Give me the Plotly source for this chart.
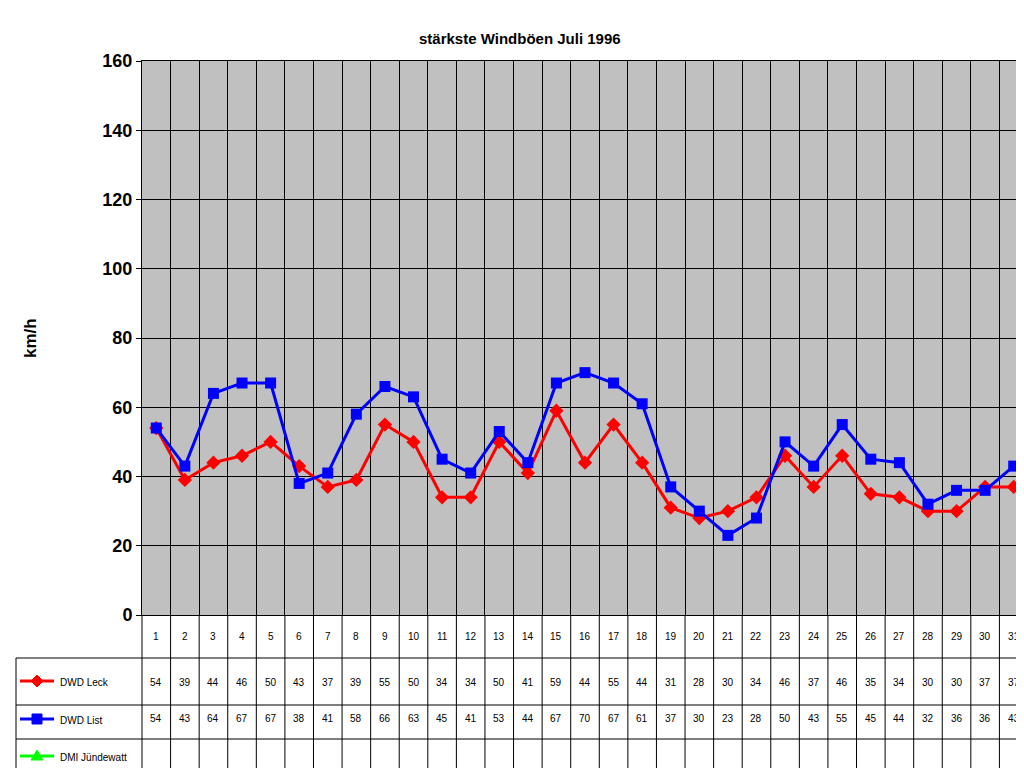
import plotly.graph_objects as go

days = list(range(1, 32))
leck = [54, 39, 44, 46, 50, 43, 37, 39, 55, 50, 34, 34, 50, 41, 59, 44, 55, 44, 31, 28, 30, 34, 46, 37, 46, 35, 34, 30, 30, 37, 37]
liste = [54, 43, 64, 67, 67, 38, 41, 58, 66, 63, 45, 41, 53, 44, 67, 70, 67, 61, 37, 30, 23, 28, 50, 43, 55, 45, 44, 32, 36, 36, 43]
series = [("DWD Leck", leck, "red", "diamond"), ("DWD List", liste, "blue", "square"),
          ("DMI Jündewatt", None, "#00ff00", "triangle-up")]

W, H = 1024, 768
x0, x1, y0, y1 = 134, 1020, 53, 607
F = "Arial, Liberation Sans"

def px(x):
    return (x - x0) / (x1 - x0)

def py(y):
    return (y1 - y) / (y1 - y0)

fig = go.Figure()
for name, vals, col, sym in series[:2]:
    fig.add_trace(go.Scatter(x=days, y=vals, mode="lines+markers", name=name,
                             line=dict(color=col, width=3),
                             marker=dict(symbol=sym, size=11, color=col)))

cw = (x1 - x0) / 31
rows = [607, 650, 697, 731, 763]
shapes = []
def line(xa, ya, xb, yb, col="black", w=1):
    shapes.append(dict(type="line", xref="paper", yref="paper", x0=px(xa), x1=px(xb),
                       y0=py(ya), y1=py(yb), line=dict(color=col, width=w)))

for y in rows[1:]:
    line(8, y, x1, y)
line(8, 650, 8, 763)
for i in range(32):
    xx = x0 + i * cw
    line(xx, 607, xx, 763)

ann = []
def text(x, y, t, size=10, anchor="center", angle=0):
    ann.append(dict(xref="paper", yref="paper", x=px(x), y=py(y), text=t, xanchor=anchor,
                    textangle=angle, showarrow=False, font=dict(family=F, size=size, color="black")))

for i, d in enumerate(days):
    cx = x0 + (i + 0.5) * cw
    text(cx, 636, str(d))
    text(cx, 682, str(leck[i]))
    text(cx, 718, str(liste[i]))

for (name, vals, col, sym), yl in zip(series, [673, 711, 748]):
    line(12, yl, 46, yl, col, 3)
    if sym == "diamond":
        path = f"M{px(23)},{py(yl)} L{px(29)},{py(yl-6)} L{px(35)},{py(yl)} L{px(29)},{py(yl+6)} Z"
    elif sym == "square":
        path = f"M{px(24)},{py(yl-5)} L{px(34)},{py(yl-5)} L{px(34)},{py(yl+5)} L{px(24)},{py(yl+5)} Z"
    else:
        path = f"M{px(23)},{py(yl+4)} L{px(29)},{py(yl-6)} L{px(35)},{py(yl+4)} Z"
    shapes.append(dict(type="path", xref="paper", yref="paper", path=path,
                       fillcolor=col, line=dict(color=col, width=1)))
    text(50, yl + 9, name, anchor="left")

text(512, 20, "<b>stärkste Windböen Juli 1996</b>", size=15)
text(22, 330, "<b>km/h</b>", size=17, angle=-90)

fig.update_layout(
    width=W, height=H, margin=dict(l=x0, r=W - x1, t=y0, b=H - y1),
    paper_bgcolor="white", plot_bgcolor="#c0c0c0", showlegend=False, hovermode=False,
    font=dict(family=F, color="black"),
    xaxis=dict(range=[0.5, 31.5], tickvals=[0.5 + i for i in range(32)],
               showticklabels=False, ticks="", showgrid=True, gridcolor="black", gridwidth=1,
               showline=True, linecolor="black", mirror=True, zeroline=False),
    yaxis=dict(range=[0, 160], dtick=20, showgrid=True,
               gridcolor="black", gridwidth=1, showline=True, linecolor="black", mirror=True,
               ticks="outside", ticklen=5, tickcolor="black", zeroline=False,
               tickfont=dict(family=F, size=18, color="black"), tickprefix="<b>", ticksuffix="</b>"),
    shapes=shapes, annotations=ann,
)
fig.write_html("out.html")
